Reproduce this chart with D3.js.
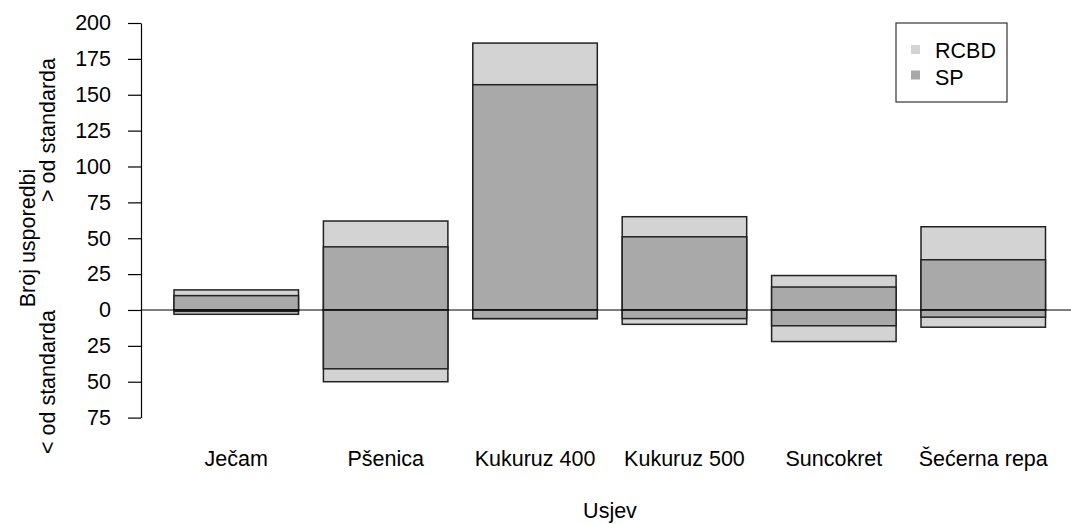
<!DOCTYPE html>
<html>
<head>
<meta charset="utf-8">
<script src="https://cdn.jsdelivr.net/npm/d3@7"></script>
<style>
  body { margin: 0; background: #fff; }
  text { font-family: "Liberation Sans", Arial, sans-serif; fill: #000; }
</style>
</head>
<body>
<script>
// Data
var crops = ["Ječam", "Pšenica", "Kukuruz 400", "Kukuruz 500", "Suncokret", "Šećerna repa"];
var rcbdAbove = [14, 62, 186, 65, 24, 58];
var spAbove = [10, 44, 157, 51, 16, 35];
var rcbdBelow = [3, 50, 6, 10, 22, 12];
var spBelow = [1, 41, 6, 6, 11, 5];
var yTicks = [-75, -50, -25, 0, 25, 50, 75, 100, 125, 150, 175, 200];
var seriesNames = ["RCBD", "SP"];
var seriesColors = ["#d3d3d3", "#a9a9a9"];

var fontSize = "21.5px";

// SVG area
var svgWidth = 1071;
var svgHeight = 524;

var svg = d3.select("body")
  .append("svg")
  .attr("width", svgWidth)
  .attr("height", svgHeight);

// scales
var xBandScale = d3.scaleBand()
  .domain(crops)
  .range([149.1, 1070.4])
  .paddingInner(1 / 6)
  .paddingOuter(1 / 6);

var yLinearScale = d3.scaleLinear()
  .domain([-75, 200])
  .range([417.6, 23]);

// bars: RCBD first, SP on top of it
function drawBars(above, below, color, cls) {
  svg.selectAll("." + cls + "up")
    .data(crops)
    .enter()
    .append("rect")
    .attr("x", d => xBandScale(d))
    .attr("y", (d, i) => yLinearScale(above[i]))
    .attr("width", xBandScale.bandwidth())
    .attr("height", (d, i) => yLinearScale(0) - yLinearScale(above[i]))
    .attr("fill", color)
    .attr("stroke", "#222")
    .attr("stroke-width", 1.5);

  svg.selectAll("." + cls + "down")
    .data(crops)
    .enter()
    .append("rect")
    .attr("x", d => xBandScale(d))
    .attr("y", yLinearScale(0))
    .attr("width", xBandScale.bandwidth())
    .attr("height", (d, i) => yLinearScale(-below[i]) - yLinearScale(0))
    .attr("fill", color)
    .attr("stroke", "#222")
    .attr("stroke-width", 1.5);
}

drawBars(rcbdAbove, rcbdBelow, seriesColors[0], "rcbd");
drawBars(spAbove, spBelow, seriesColors[1], "sp");

// zero line across the plot
svg.append("line")
  .attr("x1", 141)
  .attr("x2", svgWidth)
  .attr("y1", yLinearScale(0))
  .attr("y2", yLinearScale(0))
  .attr("stroke", "#000")
  .attr("stroke-width", 1.2);

// left axis, labels shown as absolute values
var leftAxis = d3.axisLeft(yLinearScale)
  .tickValues(yTicks)
  .tickFormat(d => Math.abs(d))
  .tickSize(13)
  .tickPadding(17)
  .tickSizeOuter(0);

var yAxis = svg.append("g")
  .attr("transform", "translate(141,0)")
  .call(leftAxis);

yAxis.select(".domain").attr("stroke", "#000").attr("stroke-width", 1.2);
yAxis.selectAll(".tick line").attr("stroke", "#000").attr("stroke-width", 1.2);
yAxis.selectAll(".tick text")
  .style("font-family", "'Liberation Sans', Arial, sans-serif")
  .style("font-size", fontSize)
  .attr("fill", "#000");

// category labels
svg.selectAll(".catLabel")
  .data(crops)
  .enter()
  .append("text")
  .attr("class", "catLabel")
  .attr("x", d => xBandScale(d) + xBandScale.bandwidth() / 2)
  .attr("y", 466)
  .attr("text-anchor", "middle")
  .style("font-size", fontSize)
  .text(d => d);

// axis titles
svg.append("text")
  .attr("x", 610)
  .attr("y", 518)
  .attr("text-anchor", "middle")
  .style("font-size", fontSize)
  .text("Usjev");

svg.append("text")
  .attr("transform", "translate(35,238) rotate(-90)")
  .attr("text-anchor", "middle")
  .style("font-size", fontSize)
  .text("Broj usporedbi");

svg.append("text")
  .attr("transform", "translate(55,130) rotate(-90)")
  .attr("text-anchor", "middle")
  .style("font-size", fontSize)
  .text("> od standarda");

svg.append("text")
  .attr("transform", "translate(55,382) rotate(-90)")
  .attr("text-anchor", "middle")
  .style("font-size", fontSize)
  .text("< od standarda");

// legend
var legend = svg.append("g");

legend.append("rect")
  .attr("x", 896)
  .attr("y", 23)
  .attr("width", 111)
  .attr("height", 79)
  .attr("fill", "#fff")
  .attr("stroke", "#333")
  .attr("stroke-width", 1.2);

legend.selectAll(".key")
  .data(seriesNames)
  .enter()
  .append("rect")
  .attr("x", 911)
  .attr("y", (d, i) => 45 + i * 25.5)
  .attr("width", 9)
  .attr("height", 9)
  .attr("fill", (d, i) => seriesColors[i]);

legend.selectAll(".keyText")
  .data(seriesNames)
  .enter()
  .append("text")
  .attr("x", 935)
  .attr("y", (d, i) => 57.5 + i * 27)
  .style("font-size", fontSize)
  .text(d => d);
</script>
</body>
</html>
